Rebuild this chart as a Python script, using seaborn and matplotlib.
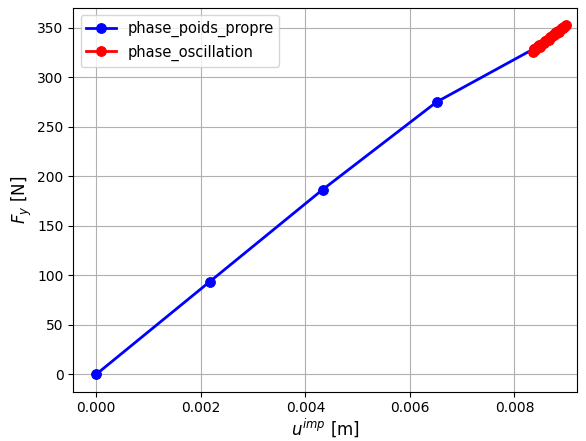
import numpy as np
import pandas as pd
import seaborn as sns
import matplotlib
matplotlib.use("Agg")
import matplotlib.pyplot as plt

# phase 1 : chargement sous poids propre
u_pp = [0.0, 0.00217, 0.00433, 0.00651, 0.00838]
F_pp = [0.0, 93.5, 186.5, 275.0, 329.0]

# phase 2 : oscillations
u_osc = [0.00838, 0.00845, 0.00852, 0.00860, 0.00868, 0.00875, 0.00883, 0.00890, 0.00897,
         0.00893, 0.00885, 0.00876, 0.00866, 0.00857, 0.00848, 0.00840, 0.00836,
         0.00842, 0.00851, 0.00862, 0.00872, 0.00881, 0.00889, 0.00895, 0.00898,
         0.00891, 0.00880, 0.00869, 0.00858, 0.00847, 0.00839]
F_osc = [329.0, 331.5, 334.0, 337.0, 340.5, 343.5, 346.5, 349.5, 352.0,
         350.0, 346.0, 342.5, 338.0, 334.5, 331.0, 327.5, 325.5,
         329.5, 333.0, 337.5, 341.5, 345.0, 348.5, 351.0, 352.5,
         349.5, 345.5, 341.0, 336.5, 332.5, 328.5]

df_pp = pd.DataFrame({"u": u_pp, "F": F_pp})
df_osc = pd.DataFrame({"u": u_osc, "F": F_osc})

fig, ax = plt.subplots(figsize=(5.86, 4.41), dpi=100)
sns.lineplot(data=df_pp, x="u", y="F", sort=False, ax=ax, color="blue", marker="o",
             markersize=7, markeredgecolor="blue", linewidth=2, label="phase_poids_propre")
sns.lineplot(data=df_osc, x="u", y="F", sort=False, ax=ax, color="red", marker="o",
             markersize=7, markeredgecolor="red", linewidth=2, label="phase_oscillation")

ax.grid(True)
ax.set_xlim(-0.00044, 0.0092)
ax.set_ylim(-17.5, 370)
ax.set_xlabel(r"$u^{imp}$ [m]", fontsize=12, labelpad=1)
ax.set_ylabel(r"$F_y$ [N]", fontsize=12, labelpad=2)
ax.legend(loc="upper left", fontsize=10.5)
plt.subplots_adjust(left=0.125, right=0.985, top=0.982, bottom=0.112)
plt.savefig("out.png", dpi=100)
